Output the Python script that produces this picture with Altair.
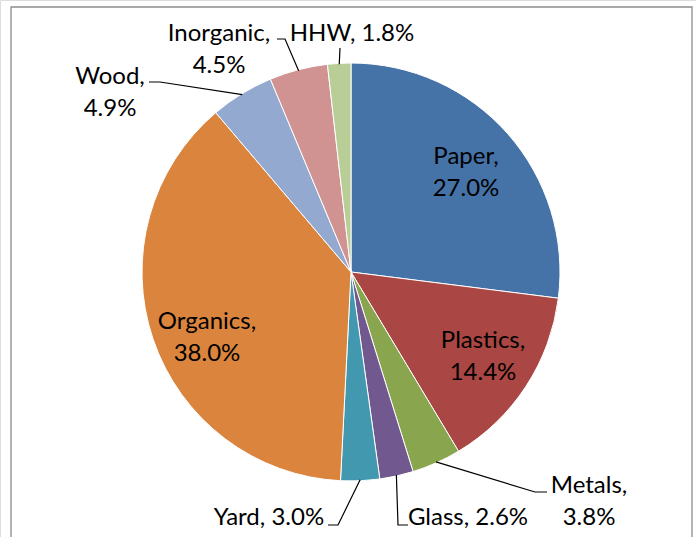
import math
import altair as alt
import pandas as pd

# ---- data ----
categories = ["Paper", "Plastics", "Metals", "Glass", "Yard", "Organics", "Wood", "Inorganic", "HHW"]
shares = [27.0, 14.4, 3.8, 2.6, 3.0, 38.0, 4.9, 4.5, 1.8]
colors = ["#4572A7", "#AA4643", "#89A54E", "#71588F", "#4198AF", "#DB843D", "#93A9CF", "#D19392", "#B9CD96"]

# ---- layout (pixels) ----
W, H = 696, 537
CX, CY, R = 351, 272, 209
FONT = "Lato"
FS = 24
LINE = 32

# label anchor (center of first line) and whether split in two lines
label_layout = {
    "Paper": (466, 157, True),
    "Plastics": (483, 341, True),
    "Metals": (589, 486, True),
    "Glass": (468, 518, False),
    "Yard": (269, 518, False),
    "Organics": (207, 322, True),
    "Wood": (110, 77, True),
    "Inorganic": (219, 34, True),
    "HHW": (352, 34, False),
}
# leader line bends (after the slice edge point)
leader_bends = {
    "Wood": [(160, 82), (149, 82)],
    "Inorganic": [(285, 39), (277, 39)],
    "HHW": [(340, 48)],
    "Metals": [(535, 492), (547, 492)],
    "Glass": [(398, 525), (408, 525)],
    "Yard": [(338, 525), (328, 525)],
}

pie_df = pd.DataFrame({"category": categories, "share": shares, "idx": range(len(categories))})

# labels
rows = []
for cat, s in zip(categories, shares):
    x, y, two = label_layout[cat]
    if two:
        rows.append({"text": f"{cat},", "x": x, "y": y})
        rows.append({"text": f"{s:.1f}%", "x": x, "y": y + LINE})
    else:
        rows.append({"text": f"{cat}, {s:.1f}%", "x": x, "y": y})
lab_df = pd.DataFrame(rows)

# leader lines: start at slice mid-angle on the rim
lrows = []
cum = 0.0
for cat, s in zip(categories, shares):
    mid = (cum + s / 2) / 100 * 2 * math.pi
    cum += s
    if cat in leader_bends:
        ex = CX + (R - 1) * math.sin(mid)
        ey = CY - (R - 1) * math.cos(mid)
        pts = [(ex, ey)] + leader_bends[cat]
        for i, (px, py) in enumerate(pts):
            lrows.append({"cat": cat, "o": i, "x": px, "y": py})
lead_df = pd.DataFrame(lrows)

pie = alt.Chart(pie_df).mark_arc(outerRadius=R, stroke="white", strokeWidth=1).encode(
    theta=alt.Theta("share:Q", stack=True),
    order=alt.Order("idx:Q"),
    color=alt.Color("category:N", scale=alt.Scale(domain=categories, range=colors), legend=None),
    x=alt.value(CX),
    y=alt.value(CY),
)

leaders = alt.Chart(lead_df).mark_line(color="black", strokeWidth=1.2).encode(
    x=alt.X("x:Q", scale=None),
    y=alt.Y("y:Q", scale=None),
    detail="cat:N",
    order="o:Q",
)

labels = alt.Chart(lab_df).mark_text(
    font=FONT, fontSize=FS, color="black", align="center", baseline="middle"
).encode(
    x=alt.X("x:Q", scale=None),
    y=alt.Y("y:Q", scale=None),
    text="text:N",
)

frame = alt.Chart(pd.DataFrame({"a": [0]})).mark_rect(
    fill=None, stroke="#8c8c8c", strokeWidth=1.3
).encode(
    x=alt.value(11), x2=alt.value(692), y=alt.value(7), y2=alt.value(580)
)

chart = alt.layer(frame, pie, leaders, labels).properties(
    width=W, height=H, autosize="none", padding=0
).configure_view(stroke=None).configure(background="white")

chart.save("out.html", embed_options={"renderer": "svg", "actions": False})
